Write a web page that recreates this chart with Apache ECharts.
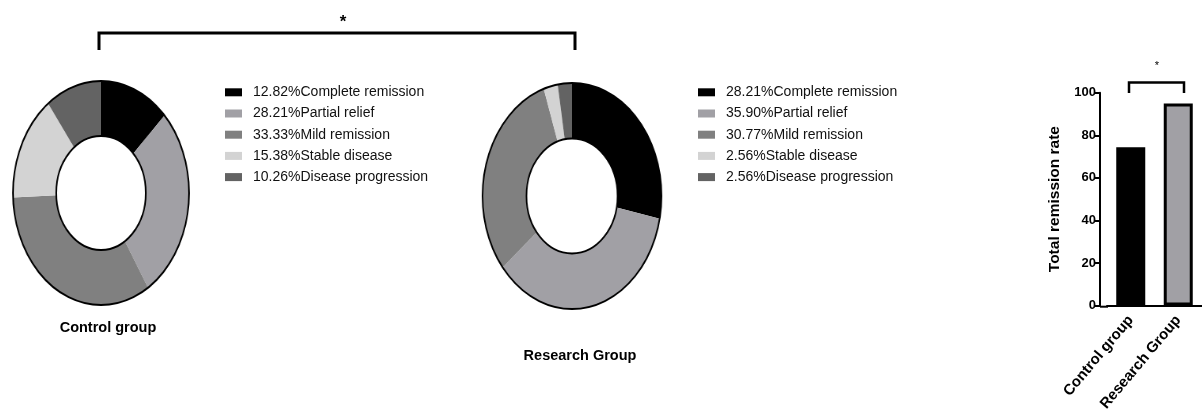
<!DOCTYPE html>
<html>
<head>
<meta charset="utf-8">
<script src="https://cdn.jsdelivr.net/npm/echarts@6/dist/echarts.min.js"></script>
<style>
  html, body { margin: 0; padding: 0; background: #fff; }
  #wrap { position: relative; width: 1202px; height: 414px; overflow: hidden; }
  #main { position: absolute; left: 0; top: 0; width: 1202px; height: 414px; }
  .pie { position: absolute; width: 240px; height: 240px; transform-origin: 50% 50%; }
  #pieA { left: -19.5px; top: 73px; transform: scaleX(0.786); }
  #pieB { left: 451.5px; top: 76px; transform: scaleX(0.792); }
</style>
</head>
<body>
<div id="wrap">
  <div id="main"></div>
  <div id="pieA" class="pie"></div>
  <div id="pieB" class="pie"></div>
</div>
<script>
// Response categories and their share (%) in each group
const categories = ['Complete remission', 'Partial relief', 'Mild remission', 'Stable disease', 'Disease progression'];
const controlShares = [12.82, 28.21, 33.33, 15.38, 10.26];
const researchShares = [28.21, 35.90, 30.77, 2.56, 2.56];
const sliceColors = ['#000000', '#a1a0a5', '#808080', '#d3d3d3', '#636363'];

// Total remission rate per group (%)
const groups = ['Control group', 'Research Group'];
const totalRates = [74.36, 94.87];
const rateTicks = [0, 20, 40, 60, 80, 100];

const FONT = '"Liberation Sans", Arial, Helvetica, sans-serif';

// Donut chart: slices + a thin outline ring on the outer and inner edge
function donutOption(shares, radius) {
  return {
    animation: false,
    series: [
      {
        type: 'pie',
        radius: radius,
        center: ['50%', '50%'],
        startAngle: 90,
        clockwise: true,
        silent: true,
        label: { show: false },
        labelLine: { show: false },
        emphasis: { disabled: true },
        itemStyle: { borderWidth: 0 },
        data: categories.map((name, i) => ({
          name: name, value: shares[i], itemStyle: { color: sliceColors[i] }
        }))
      },
      {
        type: 'pie',
        radius: radius,
        center: ['50%', '50%'],
        silent: true,
        label: { show: false },
        labelLine: { show: false },
        emphasis: { disabled: true },
        itemStyle: { color: 'rgba(0,0,0,0)', borderColor: '#000', borderWidth: 2 },
        data: [{ name: 'outline', value: 1 }]
      }
    ]
  };
}

echarts.init(document.getElementById('pieA'), null, { renderer: 'canvas' })
  .setOption(donutOption(controlShares, [57, 112]));
echarts.init(document.getElementById('pieB'), null, { renderer: 'canvas' })
  .setOption(donutOption(researchShares, [57.5, 113]));

// Legend block: swatch + "xx.xx%Name" per category
function legendBlock(x, y, shares) {
  const children = [];
  categories.forEach((name, i) => {
    const cy = y + i * 21.2;
    children.push({
      type: 'rect', shape: { x: x, y: cy - 4, width: 17, height: 8 },
      style: { fill: sliceColors[i] }, silent: true
    });
    children.push({
      type: 'text', x: x + 28, y: cy,
      style: {
        text: shares[i].toFixed(2) + '%' + name,
        fill: '#111', font: '14px ' + FONT, textVerticalAlign: 'middle'
      }, silent: true
    });
  });
  return { type: 'group', children: children };
}

const main = echarts.init(document.getElementById('main'), null, { renderer: 'canvas' });

const gridLeft = 1107, gridTop = 92.7, gridBottom = 107.3;

main.setOption({
  animation: false,
  backgroundColor: '#ffffff',
  grid: { left: gridLeft, top: gridTop, width: 98, bottom: gridBottom, containLabel: false },
  xAxis: {
    type: 'category',
    data: groups,
    axisLine: { lineStyle: { color: '#000', width: 2 } },
    axisTick: { alignWithLabel: true, length: 8, lineStyle: { color: '#000', width: 2 } },
    axisLabel: {
      rotate: 50, margin: 12, color: '#000', fontSize: 15, fontWeight: 'bold', fontFamily: FONT,
      interval: 0
    }
  },
  yAxis: {
    type: 'value',
    min: 0, max: 100, interval: 20,
    offset: 7,
    name: 'Total remission rate',
    nameLocation: 'middle',
    nameRotate: 90,
    nameGap: 37,
    nameTextStyle: { color: '#000', fontSize: 15.5, fontWeight: 'bold', fontFamily: FONT },
    axisLine: { show: true, lineStyle: { color: '#000', width: 2 } },
    axisTick: { show: true, length: 6, lineStyle: { color: '#000', width: 2 } },
    axisLabel: {
      color: '#000', fontSize: 13, fontWeight: 'bold', fontFamily: FONT, margin: 4,
      formatter: v => rateTicks.includes(v) ? String(v) : ''
    },
    splitLine: { show: false }
  },
  series: [{
    type: 'bar',
    barWidth: 29,
    silent: true,
    data: totalRates.map((v, i) => ({
      value: v,
      itemStyle: { color: i === 0 ? '#000000' : '#a1a0a5', borderColor: '#000', borderWidth: 3 }
    }))
  }],
  graphic: [
    // significance bracket between the two donuts
    {
      type: 'polyline', silent: true,
      shape: { points: [[99, 50], [99, 33], [575, 33], [575, 50]] },
      style: { stroke: '#000', lineWidth: 3, fill: null }
    },
    {
      type: 'text', x: 343, y: 22, silent: true,
      style: { text: '*', font: 'bold 17px ' + FONT, fill: '#000', textAlign: 'center', textVerticalAlign: 'middle' }
    },
    // group captions under the donuts
    {
      type: 'text', x: 108, y: 328, silent: true,
      style: { text: 'Control group', font: 'bold 14.5px ' + FONT, fill: '#000', textAlign: 'center', textVerticalAlign: 'middle' }
    },
    {
      type: 'text', x: 580, y: 356, silent: true,
      style: { text: 'Research Group', font: 'bold 14.5px ' + FONT, fill: '#000', textAlign: 'center', textVerticalAlign: 'middle' }
    },
    legendBlock(225, 92.3, controlShares),
    legendBlock(698, 92.3, researchShares),
    // x axis line continues to the offset y axis
    {
      type: 'line', silent: true,
      shape: { x1: 1100, y1: 414 - gridBottom, x2: gridLeft + 1, y2: 414 - gridBottom },
      style: { stroke: '#000', lineWidth: 2 }
    },
    // significance bracket over the bars
    {
      type: 'polyline', silent: true,
      shape: { points: [[1129, 93], [1129, 82.5], [1184, 82.5], [1184, 93]] },
      style: { stroke: '#000', lineWidth: 2.5, fill: null }
    },
    {
      type: 'text', x: 1157, y: 66, silent: true,
      style: { text: '*', font: '11px ' + FONT, fill: '#000', textAlign: 'center', textVerticalAlign: 'middle' }
    }
  ]
});
</script>
</body>
</html>
